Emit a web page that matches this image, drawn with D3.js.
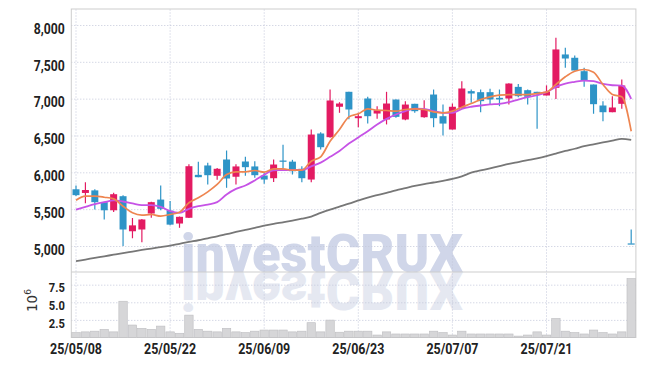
<!DOCTYPE html>
<html><head><meta charset="utf-8">
<script src="https://cdn.jsdelivr.net/npm/d3@7"></script>
<style>body{margin:0;background:#fff;} svg{display:block;}</style>
</head><body>
<svg id="c" width="645" height="366"></svg>
<script>
const dates = ["25/05/08","25/05/09","25/05/12","25/05/13","25/05/14","25/05/15","25/05/16","25/05/19","25/05/20","25/05/21",
"25/05/22","25/05/23","25/05/26","25/05/27","25/05/28","25/05/29","25/05/30","25/06/02","25/06/04","25/06/05",
"25/06/09","25/06/10","25/06/11","25/06/12","25/06/13","25/06/16","25/06/17","25/06/18","25/06/19","25/06/20",
"25/06/23","25/06/24","25/06/25","25/06/26","25/06/27","25/06/30","25/07/01","25/07/02","25/07/03","25/07/04",
"25/07/07","25/07/08","25/07/09","25/07/10","25/07/11","25/07/14","25/07/15","25/07/16","25/07/17","25/07/18",
"25/07/21","25/07/22","25/07/23","25/07/24","25/07/25","25/07/28","25/07/29","25/07/30","25/07/31","25/08/01"];
const open  = [5770,5720,5755,5595,5485,5676,5200,5224,5441,5630,5480,5305,5383,5966,6093,5953,6174,5940,6147,6080,
5957,5920,6160,6145,6048,5902,6527,6477,6890,7093,6735,7002,6798,6717,6988,6717,6930,6748,7056,6762,
6581,6876,7102,7088,7088,7011,7002,7160,7115,7093,7043,7147,7600,7555,7373,7192,6907,6816,6930,5035];
const high  = [5820,5865,5770,5600,5722,5690,5380,5365,5600,5820,5610,5400,6110,6142,6129,6060,6296,6110,6210,6150,
5993,6174,6375,6170,6083,6583,6545,7125,6952,7093,6808,7025,6898,7093,6990,6966,6930,6980,7124,6921,
6934,7237,7125,7125,7133,7124,7210,7200,7125,7093,7180,7827,7690,7586,7418,7192,6966,7034,7260,5224];
const low   = [5680,5580,5495,5360,5460,5000,5105,5052,5383,5485,5280,5247,5380,5934,5835,5900,5790,5835,5955,5926,
5845,5870,6060,5970,5866,5866,6310,6470,6808,6720,6612,6662,6726,6650,6740,6707,6808,6740,6612,6500,
6581,6870,6944,6816,6920,6898,6920,7020,6920,6590,7043,6997,7420,7382,7160,6795,6694,6816,6862,5030];
const close = [5690,5760,5595,5485,5703,5224,5280,5360,5595,5505,5290,5396,6083,5934,5961,6048,5916,6080,6070,5961,
5902,6106,6143,6015,5920,6513,6341,6975,6934,6853,6762,6762,6843,6934,6753,6920,6830,6853,6735,6662,
6890,7138,7070,6966,6989,6989,7205,7034,7025,7080,7093,7668,7545,7382,7247,6925,6816,6880,7179,5030];
const volume = [0.7,0.8,0.9,1.15,0.8,5.15,1.77,1.3,1.15,1.62,0.8,0.6,3.18,1.15,0.9,0.8,1.3,0.8,0.7,0.9,
1.06,1.06,1.06,0.8,0.9,2.1,0.8,2.47,0.75,0.9,0.9,0.9,0.35,0.8,0.5,0.5,0.5,0.5,0.9,0.7,
0.35,0.9,0.5,0.5,0.5,0.5,0.5,0.2,0.35,0.8,0.35,2.7,0.9,0.7,0.5,1.06,0.7,0.5,0.8,8.37];
const ma5 = [5622,5676,5676,5662,5640,5540,5450,5418,5428,5405,5428,5459,5587,5654,5735,5835,5970,6007,6007,6025,
6002,6048,6048,6029,6029,6151,6210,6422,6581,6753,6794,6862,6843,6839,6830,6853,6862,6853,6821,6808,
6830,6884,6934,6988,7025,7047,7056,7056,7056,7070,7088,7192,7297,7373,7396,7360,7192,7056,7025,6558];
const ma10 = [5495,5532,5567,5595,5618,5604,5577,5554,5554,5532,5473,5450,5505,5540,5563,5595,5700,5776,5821,5890,
5968,6028,6030,6032,6032,6080,6132,6210,6290,6390,6474,6558,6649,6726,6785,6830,6866,6862,6830,6808,
6808,6862,6890,6907,6921,6930,6952,6988,7020,7047,7088,7160,7205,7228,7246,7237,7200,7182,7178,6998];
const maLong = [4794,4816,4838,4860,4882,4904,4925,4946,4965,4985,5005,5030,5055,5078,5105,5130,5160,5190,5218,5245,
5275,5300,5322,5345,5370,5400,5450,5495,5535,5575,5618,5658,5690,5722,5755,5785,5815,5840,5862,5885,
5910,5945,5995,6025,6055,6085,6115,6140,6165,6190,6220,6255,6290,6320,6355,6380,6405,6430,6455,6440];
const priceTicks = [5000,5500,6000,6500,7000,7500,8000];
const volTicks = [2.5,5,7.5];
const dateTicks = ["25/05/08","25/05/22","25/06/09","25/06/23","25/07/07","25/07/21"];

const svg = d3.select("#c");
const L = 71.3, R = 635.9, T = 9, MID = 272, B = 337.5;
const UP = "#e31b62", DOWN = "#2e94c7", GRID = "#c3c7da", FRAME = "#cdcdcd";
const x = d3.scaleBand().domain(dates).range([L, R]);
const cx = d => x(d) + x.bandwidth() / 2;
const y = d3.scaleLinear().domain([4647, 8217]).range([MID, T]);
const yv = d3.scaleLinear().domain([0, 9.3]).range([B, MID]);

// watermark (text + its mirror reflection below the baseline)
const wm = svg.append("g");
wm.append("text").attr("x", 181).attr("y", MID).text("investCRUX")
  .attr("font-family", "Roboto, 'DejaVu Sans', sans-serif").attr("font-weight", 900)
  .attr("font-size", 53.5).attr("textLength", 282).attr("lengthAdjust", "spacingAndGlyphs")
  .attr("fill", "#d0d6e9");
wm.append("g").attr("transform", `translate(0,${2 * MID}) scale(1,-1)`)
  .append("text").attr("x", 181).attr("y", MID).text("investCRUX")
  .attr("font-family", "Roboto, 'DejaVu Sans', sans-serif").attr("font-weight", 900)
  .attr("font-size", 53.5).attr("textLength", 282).attr("lengthAdjust", "spacingAndGlyphs")
  .attr("fill", "#e5e8f1");

function styleAxis(g) {
  g.select(".domain").remove();
  g.selectAll(".tick line").attr("stroke", GRID).attr("stroke-dasharray", "1,2");
  g.selectAll(".tick text").attr("fill", "#222")
    .attr("font-family", "Roboto, 'DejaVu Sans', sans-serif").attr("font-weight", 700)
    .attr("lengthAdjust", "spacingAndGlyphs");
}

// price grid + labels
const gy = svg.append("g").attr("transform", `translate(${L},0)`)
  .call(d3.axisLeft(y).tickValues(priceTicks).tickSize(-(R - L)).tickPadding(6.5).tickFormat(d3.format(",")));
styleAxis(gy);
gy.selectAll(".tick text").attr("font-size", 15).attr("dy", "0.55em").attr("textLength", 31);

// volume grid + labels
const gv = svg.append("g").attr("transform", `translate(${L},0)`)
  .call(d3.axisLeft(yv).tickValues(volTicks).tickSize(-(R - L)).tickPadding(6.5).tickFormat(d3.format(".1f")));
styleAxis(gv);
gv.selectAll(".tick text").attr("font-size", 13).attr("dy", "0.55em").attr("textLength", 16);

// date grid + labels
const gx = svg.append("g").attr("transform", `translate(0,${B})`)
  .call(d3.axisBottom(x).tickValues(dateTicks).tickSize(-(B - T)).tickPadding(6.5));
styleAxis(gx);
gx.selectAll(".tick text").attr("font-size", 14).attr("textLength", 52);

// frame
svg.append("rect").attr("x", L).attr("y", T).attr("width", R - L).attr("height", B - T)
  .attr("fill", "none").attr("stroke", FRAME);
svg.append("line").attr("x1", L).attr("x2", R).attr("y1", MID).attr("y2", MID).attr("stroke", FRAME);

// volume bars
svg.append("g").selectAll("rect").data(dates).join("rect")
  .attr("x", d => x(d) + 0.5).attr("width", x.bandwidth() - 1)
  .attr("y", (d, i) => yv(volume[i])).attr("height", (d, i) => B - yv(volume[i]))
  .attr("fill", "#d6d6d8").attr("stroke", "#bdbdc0").attr("stroke-width", 0.6);

// 10^6 label
const vl = svg.append("text").attr("transform", "translate(37,312) rotate(-90)")
  .attr("font-family", "'DejaVu Sans', sans-serif").attr("fill", "#333");
vl.append("tspan").attr("font-size", 13.5).text("10");
vl.append("tspan").attr("font-size", 9).attr("dy", -6).text("6");

// candles
const cg = svg.append("g");
dates.forEach((d, i) => {
  const col = close[i] >= open[i] ? UP : DOWN;
  cg.append("line").attr("x1", cx(d)).attr("x2", cx(d))
    .attr("y1", y(high[i])).attr("y2", y(low[i])).attr("stroke", col).attr("stroke-width", 1.2);
  const top = y(Math.max(open[i], close[i])), bot = y(Math.min(open[i], close[i]));
  cg.append("rect").attr("x", cx(d) - 3.5).attr("width", 7)
    .attr("y", top).attr("height", Math.max(1.2, bot - top)).attr("fill", col);
});

// moving averages
const mkLine = arr => d3.line().x((d, i) => cx(dates[i])).y(d => y(d)).curve(d3.curveMonotoneX)(arr);
svg.append("path").attr("d", mkLine(maLong)).attr("fill", "none").attr("stroke", "#777").attr("stroke-width", 1.8);
svg.append("path").attr("d", mkLine(ma10)).attr("fill", "none").attr("stroke", "#c653e6").attr("stroke-width", 1.8);
svg.append("path").attr("d", mkLine(ma5)).attr("fill", "none").attr("stroke", "#ee8550").attr("stroke-width", 1.7);
</script>
</body></html>
